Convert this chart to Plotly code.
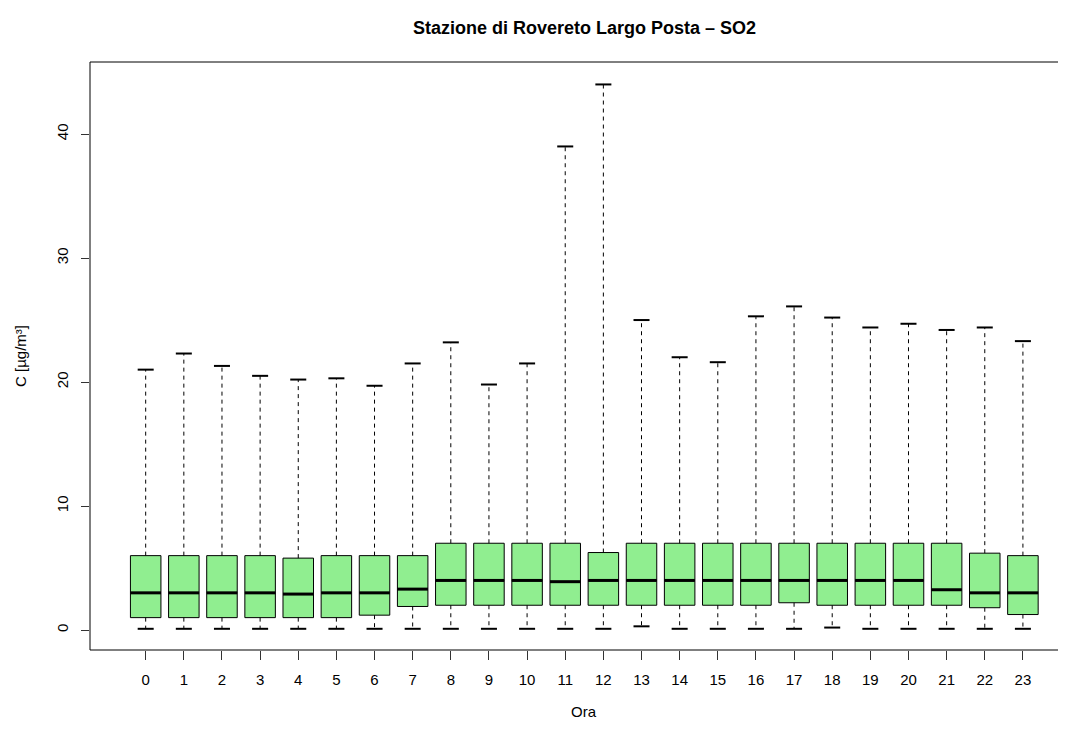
import plotly.graph_objects as go

# hourly SO2 boxplot stats
hours = list(range(24))
lower = [0.1, 0.1, 0.1, 0.1, 0.1, 0.1, 0.1, 0.1, 0.1, 0.1, 0.1, 0.1,
         0.1, 0.3, 0.1, 0.1, 0.1, 0.1, 0.2, 0.1, 0.1, 0.1, 0.1, 0.1]
q1 = [1.0, 1.0, 1.0, 1.0, 1.0, 1.0, 1.2, 1.9, 2.0, 2.0, 2.0, 2.0,
      2.0, 2.0, 2.0, 2.0, 2.0, 2.2, 2.0, 2.0, 2.0, 2.0, 1.8, 1.25]
median = [3.0, 3.0, 3.0, 3.0, 2.9, 3.0, 3.0, 3.3, 4.0, 4.0, 4.0, 3.9,
          4.0, 4.0, 4.0, 4.0, 4.0, 4.0, 4.0, 4.0, 4.0, 3.25, 3.0, 3.0]
q3 = [6.0, 6.0, 6.0, 6.0, 5.8, 6.0, 6.0, 6.0, 7.0, 7.0, 7.0, 7.0,
      6.25, 7.0, 7.0, 7.0, 7.0, 7.0, 7.0, 7.0, 7.0, 7.0, 6.2, 6.0]
upper = [21.0, 22.3, 21.3, 20.5, 20.2, 20.3, 19.7, 21.5, 23.2, 19.8, 21.5, 39.0,
         44.0, 25.0, 22.0, 21.6, 25.3, 26.1, 25.2, 24.4, 24.7, 24.2, 24.4, 23.3]

title = "Stazione di Rovereto Largo Posta \u2013 SO2"
xlab = "Ora"
ylab = "C [\u00b5g/m\u00b3]"

FONT = "Liberation Sans, Arial, sans-serif"
BOXW = 0.8
CAPW = 0.42

# dashed whiskers as one broken line
wx, wy = [], []
for h, a, b, c, d in zip(hours, lower, q1, q3, upper):
    wx += [h, h, None, h, h, None]
    wy += [c, d, None, b, a, None]

# caps
cx, cy = [], []
for h, a, d in zip(hours, lower, upper):
    cx += [h - CAPW / 2, h + CAPW / 2, None, h - CAPW / 2, h + CAPW / 2, None]
    cy += [d, d, None, a, a, None]

# thick medians
mx, my = [], []
for h, m in zip(hours, median):
    mx += [h - BOXW / 2, h + BOXW / 2, None]
    my += [m, m, None]

fig = go.Figure()
fig.add_trace(go.Scatter(x=wx, y=wy, mode="lines", hoverinfo="skip",
                         line=dict(color="black", width=1, dash="4px,4px")))
fig.add_trace(go.Box(x=hours, q1=q1, median=median, q3=q3,
                     lowerfence=q1, upperfence=q3,
                     width=BOXW, whiskerwidth=0,
                     fillcolor="#90EE90", line=dict(color="black", width=1)))
fig.add_trace(go.Scatter(x=cx, y=cy, mode="lines", hoverinfo="skip",
                         line=dict(color="black", width=2)))
fig.add_trace(go.Scatter(x=mx, y=my, mode="lines", hoverinfo="skip",
                         line=dict(color="black", width=3)))

# page body has an 8px margin, so the figure is drawn 16px smaller
fig.update_layout(
    width=1050, height=713,
    showlegend=False,
    plot_bgcolor="white", paper_bgcolor="white",
    font=dict(family=FONT, size=15, color="black"),
    margin=dict(l=82, r=0, t=54, b=71, pad=0),
    xaxis=dict(range=[-1.46, 23.92], tickmode="array", tickvals=hours,
               ticktext=[str(h) for h in hours], automargin=False,
               showgrid=False, zeroline=False, showline=False,
               ticks="outside", ticklen=9, tickcolor="#333", tickwidth=1,
               ticklabelstandoff=7),
    yaxis=dict(range=[-1.61, 45.81], tickmode="array", tickvals=[0, 10, 20, 30, 40],
               automargin=False,
               showgrid=False, zeroline=False, showline=False,
               ticks="outside", ticklen=8, tickcolor="#333", tickwidth=1,
               tickangle=-90, ticklabelstandoff=7),
    shapes=[
        dict(type="line", xref="paper", yref="paper", x0=0, x1=0, y0=0, y1=1,
             line=dict(color="black", width=1)),
        dict(type="line", xref="paper", yref="paper", x0=0, x1=1, y0=1, y1=1,
             line=dict(color="black", width=1)),
        dict(type="line", xref="paper", yref="paper", x0=0, x1=1, y0=0, y1=0,
             line=dict(color="black", width=1)),
    ],
    annotations=[
        dict(text="<b>" + title + "</b>", x=11.5, xref="x", y=1, yref="paper",
             yshift=34, showarrow=False, xanchor="center", yanchor="middle",
             font=dict(size=18)),
        dict(text=xlab, x=11.5, xref="x", y=0, yref="paper",
             yshift=-61, showarrow=False, xanchor="center", yanchor="middle",
             font=dict(size=15)),
        dict(text=ylab, x=0, xref="paper", y=0.5, yref="paper",
             xshift=-70, showarrow=False, textangle=-90,
             xanchor="center", yanchor="middle", font=dict(size=15)),
    ],
)

fig.write_html("out.html")
